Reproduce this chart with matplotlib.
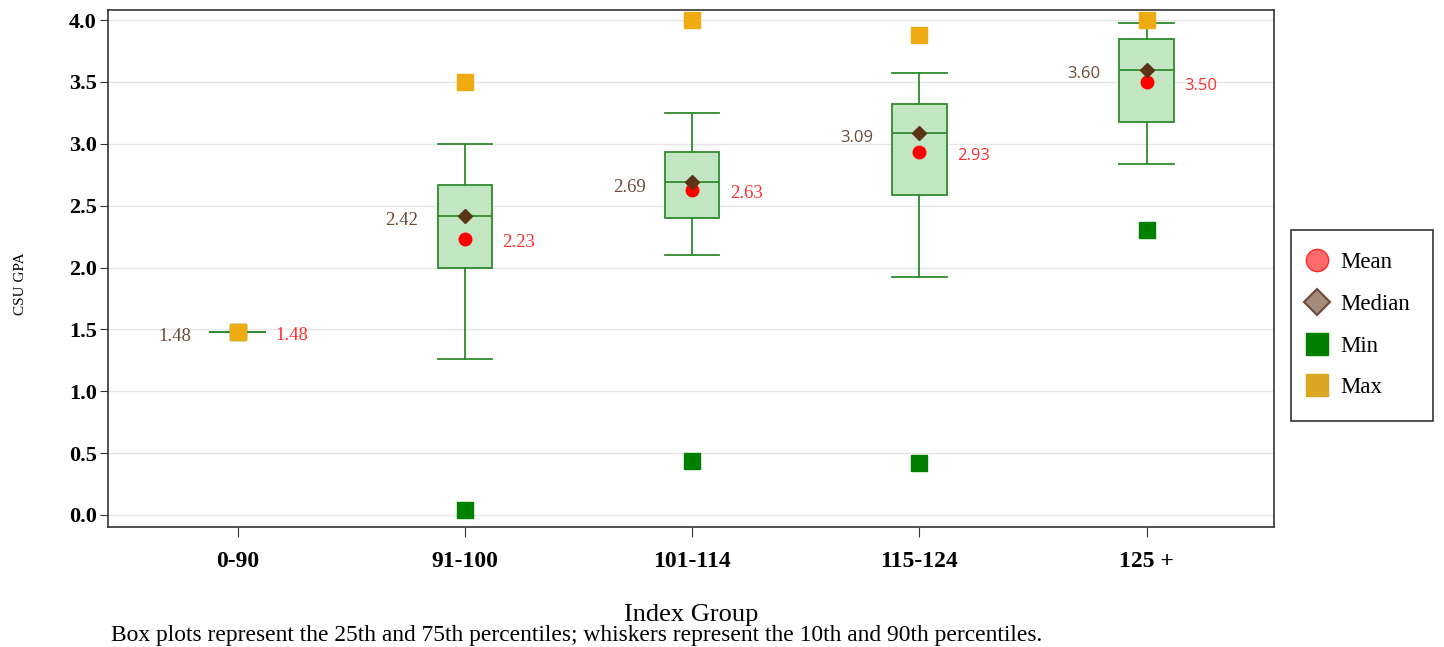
import matplotlib.pyplot as plt
from matplotlib.lines import Line2D

groups = ['0-90', '91-100', '101-114', '115-124', '125 +']
p10 = [1.48, 1.26, 2.10, 1.92, 2.84]
p25 = [1.48, 2.00, 2.40, 2.59, 3.18]
medians = [1.48, 2.42, 2.69, 3.09, 3.60]
p75 = [1.48, 2.67, 2.93, 3.32, 3.85]
p90 = [1.48, 3.00, 3.25, 3.57, 3.98]
means = [1.48, 2.23, 2.63, 2.93, 3.50]
mins = [1.48, 0.04, 0.44, 0.42, 2.30]
maxs = [1.48, 3.50, 4.00, 3.88, 4.00]

serif = 'Liberation Serif'
box_green = '#2e8b2e'

fig = plt.figure(figsize=(14.44, 6.47), dpi=100)
ax = fig.add_axes([0.0748, 0.1855, 0.8075, 0.799])

xs = list(range(1, len(groups) + 1))
stats = [dict(whislo=a, q1=b, med=c, q3=d, whishi=e, fliers=[])
         for a, b, c, d, e in zip(p10, p25, medians, p75, p90)]
ax.bxp(stats, positions=xs, widths=0.24, patch_artist=True, showfliers=False,
       boxprops=dict(facecolor='#c2e5c2', edgecolor=box_green, linewidth=1.3),
       medianprops=dict(color=box_green, linewidth=1.3),
       whiskerprops=dict(color=box_green, linewidth=1.3),
       capprops=dict(color=box_green, linewidth=1.3), capwidths=0.24, zorder=2)

ax.plot(xs, means, 'o', color='#ff0000', markersize=9, zorder=4, linestyle='none')
ax.plot(xs, medians, 'D', color='#5a3414', markersize=7, zorder=4, linestyle='none')
ax.plot(xs, mins, 's', color='#008000', markersize=11, zorder=5, linestyle='none')
ax.plot(xs, maxs, 's', color='#eeab12', markersize=12, zorder=6, linestyle='none')

for i, x in enumerate(xs):
    fam = serif if i < 3 else 'Open Sans'
    fs = 13.5 if i < 3 else 12
    ax.text(x - 0.205, medians[i] - 0.04, f'{medians[i]:.2f}', ha='right', va='center',
            color='#6e4a38', fontsize=fs, family=fam)
    ax.text(x + 0.165, means[i] - 0.03, f'{means[i]:.2f}', ha='left', va='center',
            color='#ff3030', fontsize=fs, family=fam)

ax.set_xlim(0.43, 5.56)
ax.set_ylim(-0.097, 4.081)
ax.set_xticks(xs)
ax.set_xticklabels(groups, family=serif, fontsize=17, fontweight='bold')
ax.set_yticks([0, 0.5, 1.0, 1.5, 2.0, 2.5, 3.0, 3.5, 4.0])
ax.set_yticklabels([f'{v:.1f}' for v in ax.get_yticks()], family=serif,
                   fontsize=16, fontweight='bold')
ax.tick_params(axis='x', length=7, pad=10, color='#333333')
ax.tick_params(axis='y', length=6, pad=2, color='#333333')
ax.grid(axis='y', color='#e6e6e6', linewidth=1)
ax.set_axisbelow(True)
for s in ax.spines.values():
    s.set_color('#333333')
    s.set_linewidth(1.2)

fig.text(0.0145, 0.561, 'CSU GPA', family=serif, fontsize=11, rotation=90,
         ha='center', va='center')
fig.text(0.4785, 0.049, 'Index Group', family=serif, fontsize=19,
         ha='center', va='center')

handles = [
    Line2D([], [], marker='o', linestyle='none', markersize=16,
           markerfacecolor='#ff6b6b', markeredgecolor='#ff2a2a'),
    Line2D([], [], marker='D', linestyle='none', markersize=13,
           markerfacecolor='#a58b7a', markeredgecolor='#6e4a38', markeredgewidth=1.5),
    Line2D([], [], marker='s', linestyle='none', markersize=16.5,
           markerfacecolor='#008000', markeredgecolor='#008000'),
    Line2D([], [], marker='s', linestyle='none', markersize=16.5,
           markerfacecolor='#daa520', markeredgecolor='#daa520'),
]
leg = fig.legend(handles, ['Mean', 'Median', 'Min', 'Max'], loc='center',
                 bbox_to_anchor=(0.943, 0.497), frameon=True, fancybox=False,
                 edgecolor='black', prop=dict(family=serif, size=16.5),
                 labelspacing=0.9, handlelength=0.3, handletextpad=0.85,
                 borderpad=1.0, borderaxespad=0)
leg.get_frame().set_linewidth(1.2)

fig.text(0.077, 1 - 641 / 647, 'Box plots represent the 25th and 75th percentiles; whiskers '
         'represent the 10th and 90th percentiles.', family=serif, fontsize=16.9,
         va='baseline')

fig.savefig('out.png', dpi=100)
